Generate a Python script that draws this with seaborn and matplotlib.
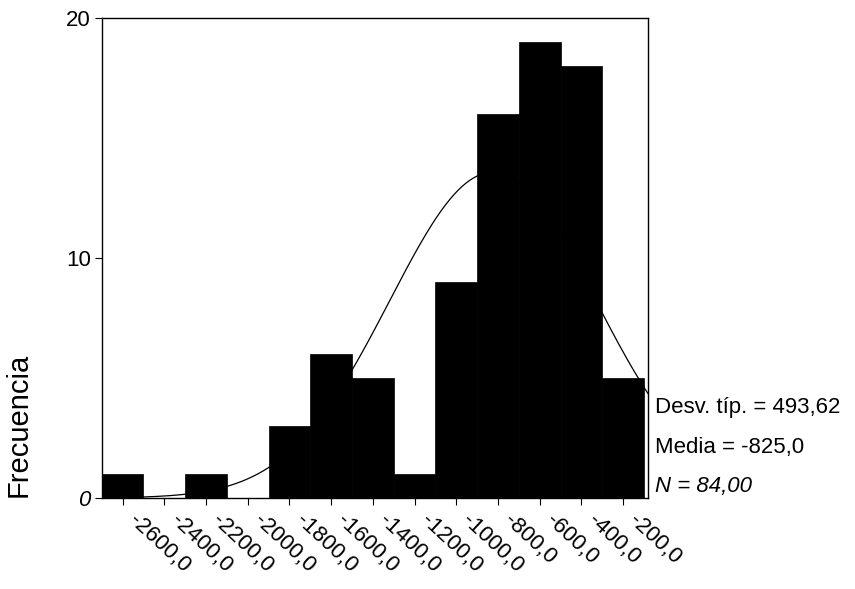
import numpy as np
import pandas as pd
import matplotlib
matplotlib.use("Agg")
import matplotlib.pyplot as plt
import matplotlib.transforms as mtransforms
import seaborn as sns

# bin centres (width 200) and counts
bin_centers = [-2600, -2400, -2200, -2000, -1800, -1600, -1400,
               -1200, -1000, -800, -600, -400, -200]
counts = [1, 0, 1, 0, 3, 6, 5, 1, 9, 16, 19, 18, 5]
tick_labels = ["-2600,0", "-2400,0", "-2200,0", "-2000,0", "-1800,0",
               "-1600,0", "-1400,0", "-1200,0", "-1000,0", "-800,0",
               "-600,0", "-400,0", "-200,0"]
bin_width = 200
std_dev = 493.62
mean = -825.0
n_total = 84

sns.set_style("ticks")
plt.rcParams["font.family"] = ["Liberation Sans", "DejaVu Sans"]
plt.rcParams["text.color"] = "black"
plt.rcParams["xtick.color"] = "black"
plt.rcParams["ytick.color"] = "black"
plt.rcParams["axes.labelcolor"] = "black"

fig = plt.figure(figsize=(8.55, 5.89), dpi=100)
ax = fig.add_axes([0.119, 0.1545, 0.639, 0.8145])

df = pd.DataFrame({"x": bin_centers, "n": counts})

# fitted normal curve, drawn behind the bars
xs = np.linspace(-2700, -80, 400)
ys = n_total * bin_width / (std_dev * np.sqrt(2 * np.pi)) * \
    np.exp(-0.5 * ((xs - mean) / std_dev) ** 2)
sns.lineplot(x=xs, y=ys, ax=ax, color="black", linewidth=0.9, zorder=1)

sns.histplot(data=df, x="x", weights="n", binwidth=bin_width,
             binrange=(bin_centers[0] - bin_width / 2,
                       bin_centers[-1] + bin_width / 2),
             ax=ax, color="black", edgecolor="black", alpha=1,
             linewidth=0.5, zorder=2)

ax.set_xlim(-2700, -80)
ax.set_ylim(0, 20)
ax.set_yticks([0, 10, 20])
ax.set_yticklabels(["0", "10", "20"], fontsize=16)
ax.get_yticklabels()[0].set_style("italic")

# x tick labels placed by hand so they can sit a bit right of each tick
ax.set_xticks(bin_centers)
ax.set_xticklabels([])
offset = mtransforms.ScaledTranslation(0.09, -0.2, fig.dpi_scale_trans)
for xc, lab in zip(bin_centers, tick_labels):
    ax.text(xc, 0, lab, fontsize=16, rotation=-43, ha="left", va="center",
            rotation_mode="anchor",
            transform=ax.get_xaxis_transform() + offset, clip_on=False)

ax.tick_params(axis="both", direction="out", length=5, width=0.8,
               color="black", pad=3)
for s in ax.spines.values():
    s.set_visible(True)
    s.set_color("black")
    s.set_linewidth(1.0)

ax.set_xlabel("")
ax.set_ylabel("Frecuencia", fontsize=21)
ax.yaxis.set_label_coords(-0.127, 0.152)

fig.text(0.766, 0.299, "Desv. típ. = 493,62", fontsize=16, va="baseline")
fig.text(0.766, 0.231, "Media = -825,0", fontsize=16, va="baseline")
fig.text(0.766, 0.165, "N = 84,00", fontsize=16, va="baseline",
         style="italic")

fig.savefig("out.png", dpi=100)
